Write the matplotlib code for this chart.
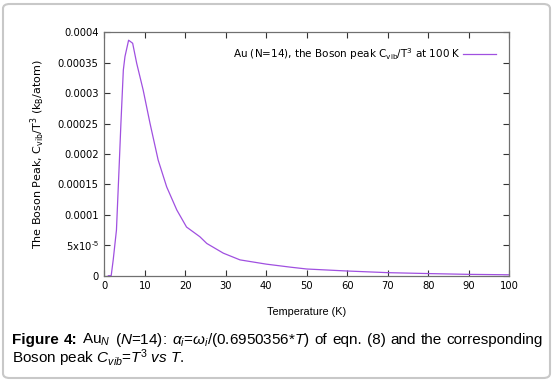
import numpy as np
import matplotlib
matplotlib.use('Agg')
import matplotlib.pyplot as plt
from matplotlib.patches import FancyBboxPatch

plt.rcParams['mathtext.fontset'] = 'custom'
plt.rcParams['mathtext.rm'] = 'Liberation Sans'
plt.rcParams['mathtext.it'] = 'Liberation Sans:italic'
plt.rcParams['mathtext.bf'] = 'Liberation Sans:bold'

# values
temp = [1.0, 1.7, 2.2, 3.0, 3.7, 4.1, 4.7, 5.1, 6.0, 7.0, 8.0, 9.6, 11.3, 13.3,
        15.4, 17.9, 20.3, 23.6, 25.3, 29.4, 33.5, 40.0, 46.0, 50.0, 60.0,
        70.0, 80.0, 90.0, 100.0]
cvib_t3 = [0.0, 0.0, 2.6e-5, 7.5e-5, 1.85e-4, 2.5e-4, 3.38e-4, 3.6e-4, 3.87e-4,
           3.82e-4, 3.49e-4, 3.05e-4, 2.50e-4, 1.90e-4, 1.46e-4, 1.08e-4,
           8.0e-5, 6.4e-5, 5.3e-5, 3.7e-5, 2.6e-5, 1.9e-5, 1.4e-5, 1.1e-5,
           7.7e-6, 5.0e-6, 3.5e-6, 2.2e-6, 1.5e-6]

xticks = list(range(0, 101, 10))
yticks = [0, 5e-5, 1e-4, 1.5e-4, 2e-4, 2.5e-4, 3e-4, 3.5e-4, 4e-4]
ytick_labels = ['0', r'5x10$^{\text{-5}}$', '0.0001', '0.00015', '0.0002',
                '0.00025', '0.0003', '0.00035', '0.0004']

caption1 = [('Figure', 'bold'), ('4:', 'bold'), (r'Au$_N$', 'normal'),
            (r'($N$=14):', 'normal'),
            (r'$\alpha_i$=$\omega_i$/(0.6950356*$T$)', 'normal'),
            ('of', 'normal'), ('eqn.', 'normal'), ('(8)', 'normal'),
            ('and', 'normal'), ('the', 'normal'), ('corresponding', 'normal')]
caption2 = r'Boson peak $C_{vib}$=$T$$^3$ $vs$ $T$.'

W, H = 558, 381
fig = plt.figure(figsize=(W/100, H/100), dpi=100)

# rounded frame around the whole figure
frame = FancyBboxPatch((3/W, 3/H), 547/W, 374/H,
                       boxstyle='round,pad=0,rounding_size=0.012',
                       transform=fig.transFigure, fill=False,
                       ec='#c8c8c8', lw=1.5)
fig.patches.append(frame)

ax = fig.add_axes([104.3/W, 1-275.7/H, 405/W, 243.4/H])
ax.plot(temp, cvib_t3, color='#a050e0', lw=0.9,
        label=r'Au (N=14), the Boson peak C$_{\mathregular{vib}}$/T$^{\mathregular{3}}$ at 100 K')
ax.set_xlim(0, 100)
ax.set_ylim(0, 0.0004)
ax.set_xticks(xticks)
ax.set_yticks(yticks)
ax.set_yticklabels(ytick_labels)
ax.tick_params(direction='in', top=True, right=True, length=4, width=0.8,
               labelsize=7.2, color='#333333', pad=4)
for s in ax.spines.values():
    s.set_color('#707070')
    s.set_linewidth(0.9)

ax.set_ylabel(r'The Boson Peak, C$_{\mathregular{vib}}$/T$^{\mathregular{3}}$ (k$_{\mathregular{B}}$/atom)',
              fontsize=8, labelpad=8)
fig.text(307/W, 1-312/H, 'Temperature (K)', fontsize=7.8,
         family='Liberation Sans', ha='center', va='center')

ax.legend(loc='upper right', frameon=False, markerfirst=False, fontsize=7.5,
          handlelength=3.1, borderaxespad=0.9, handletextpad=0.25)

# caption, first line justified between x0 and x1
x0, x1 = 12, 543
fs = 11
renderer = fig.canvas.get_renderer()
words = []
for txt, wt in caption1:
    t = fig.text(0, 1-344/H, txt, fontsize=fs, family='Liberation Sans',
                 weight=wt, ha='left', va='baseline')
    words.append(t)
widths = [t.get_window_extent(renderer).width for t in words]
gap = (x1 - x0 - sum(widths)) / (len(words) - 1)
x = x0
for t, w in zip(words, widths):
    t.set_x(x / W)
    x += w + gap
fig.text(x0/W, 1-363/H, caption2, fontsize=fs, family='Liberation Sans',
         ha='left', va='baseline')

fig.savefig('out.png', dpi=100)
